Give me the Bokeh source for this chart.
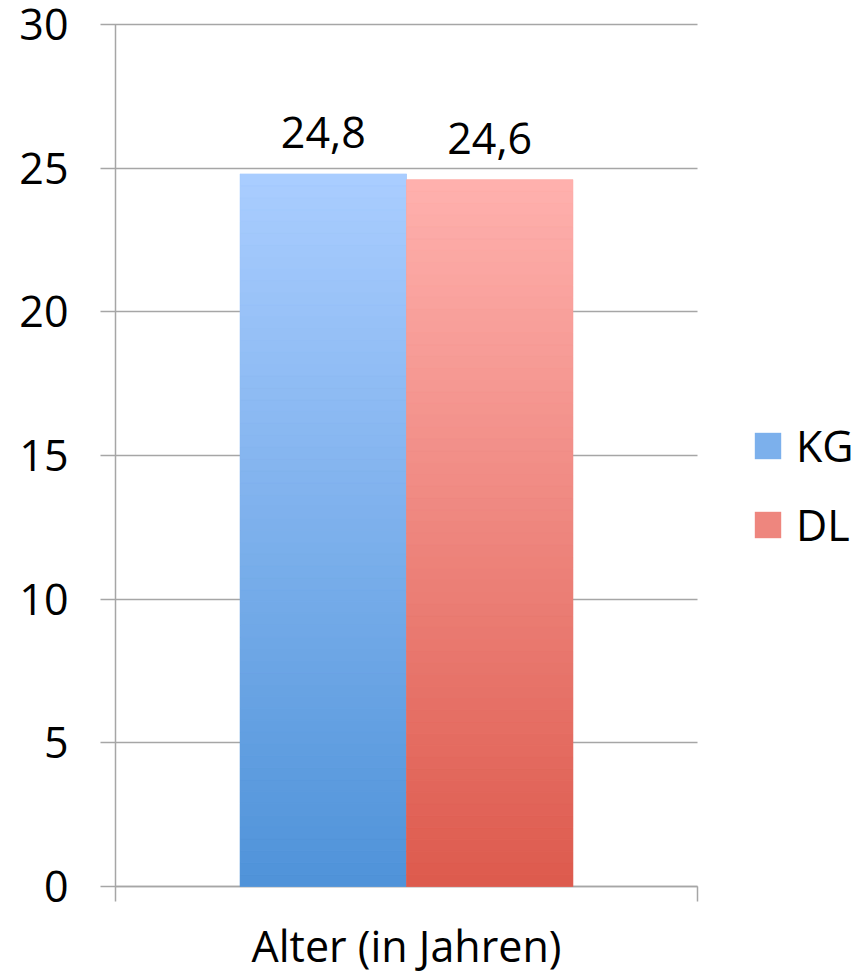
from bokeh.plotting import figure
from bokeh.models import (Range1d, LinearAxis, FixedTicker, Legend, LegendItem, ColumnDataSource)
from bokeh.core.properties import value
from bokeh.embed import file_html
from bokeh.resources import INLINE

# ---- data ----
categories = ["Alter (in Jahren)"]
series = ["KG", "DL"]
values = [24.8, 24.6]
y_ticks = [0, 5, 10, 15, 20, 25, 30]

# ---- style / layout ----
FONT = "Open Sans"
FS = "43px"
GRID = "#a6a6a6"
top_colors = ["#aacdff", "#ffb1ae"]
bottom_colors = ["#4f93d9", "#dd5a4d"]
offsets = [-0.143, 0.143]
BAR_W = 0.286
W, H = 865, 977
LEFT, TOP, BOTTOM = 115, 24, 90
PLOT_W = 582           # width of the category area in px
FRAME_W = W - LEFT     # frame extends under the legend

cat_pos = [i + 0.5 for i in range(len(categories))]
x_end = len(categories) * FRAME_W / PLOT_W

p = figure(width=W, height=H, x_range=Range1d(0, x_end),
           y_range=Range1d(0, 30), output_backend="svg", toolbar_location=None,
           x_axis_location=None, min_border_left=LEFT, min_border_right=0,
           min_border_top=TOP, min_border_bottom=BOTTOM)
p.outline_line_color = None
p.xgrid.grid_line_color = None
p.ygrid.grid_line_color = None

# y axis: long inner ticks act as the horizontal grid lines (bars are drawn above them)
ya = p.yaxis[0]
ya.ticker = FixedTicker(ticks=y_ticks)
ya.axis_line_color = GRID
ya.axis_line_width = 1.5
ya.major_tick_line_color = GRID
ya.major_tick_line_width = 1.5
ya.major_tick_out = 15
ya.major_tick_in = PLOT_W
ya.minor_tick_line_color = None
ya.major_label_text_font = FONT
ya.major_label_text_font_size = FS
ya.major_label_text_color = "#000000"
ya.major_label_standoff = 32

# category boundary ticks
edges = list(range(len(categories) + 1))
xa_ticks = LinearAxis(ticker=FixedTicker(ticks=edges), bounds=(0, len(categories)))
xa_ticks.axis_line_color = GRID
xa_ticks.axis_line_width = 1.5
xa_ticks.major_tick_line_color = GRID
xa_ticks.major_tick_line_width = 1.5
xa_ticks.major_tick_out = 15
xa_ticks.major_tick_in = 0
xa_ticks.minor_tick_line_color = None
xa_ticks.major_label_text_font_size = "0px"
xa_ticks.major_label_standoff = 0
xa_ticks.major_label_overrides = {e: "" for e in edges}
p.add_layout(xa_ticks, "below")

# category labels
xa_cat = LinearAxis(ticker=FixedTicker(ticks=cat_pos))
xa_cat.axis_line_color = None
xa_cat.major_tick_line_color = None
xa_cat.minor_tick_line_color = None
xa_cat.major_label_overrides = {c: lab for c, lab in zip(cat_pos, categories)}
xa_cat.major_label_text_font = FONT
xa_cat.major_label_text_font_size = FS
xa_cat.major_label_text_color = "#000000"
xa_cat.major_label_standoff = 8
p.add_layout(xa_cat, "below")


def hex2rgb(h):
    return tuple(int(h[i:i + 2], 16) for i in (1, 3, 5))


def mix(c1, c2, t):
    a, b = hex2rgb(c1), hex2rgb(c2)
    return "#%02x%02x%02x" % tuple(round(a[k] + (b[k] - a[k]) * t) for k in range(3))


items = []
N = 60
for i, s in enumerate(series):
    mid = mix(bottom_colors[i], top_colors[i], 0.5)
    xs = [c + offsets[i] for c in cat_pos]
    src = ColumnDataSource(dict(x=xs, top=[values[i]], label=[f"{values[i]:.1f}".replace(".", ",")]))
    r = p.vbar(x="x", top="top", width=BAR_W, source=src, fill_color=mid, line_color=None,
               level="overlay")
    items.append(LegendItem(label=s, renderers=[r]))
    # vertical gradient (style only)
    bots = [values[i] * k / N for k in range(N)]
    tops = [values[i] * (k + 1) / N for k in range(N)]
    cols = [mix(bottom_colors[i], top_colors[i], (k + 0.5) / N) for k in range(N)]
    gsrc = ColumnDataSource(dict(x=xs * N, bottom=bots, top=tops, c=cols))
    p.vbar(x="x", bottom="bottom", top="top", width=BAR_W, source=gsrc,
           fill_color="c", line_color="c", line_width=0.6, level="overlay")
    p.text(x="x", y="top", text="label", source=src,
           text_align="center", text_baseline="alphabetic", y_offset=-41,
           text_font=value(FONT), text_font_size=FS, text_color="#000000", level="overlay")

legend = Legend(items=items, location=(636, 332), orientation="vertical")
legend.glyph_width = 33
legend.glyph_height = 33
legend.label_text_font = FONT
legend.label_text_font_size = FS
legend.label_text_color = "#000000"
legend.label_standoff = 12
legend.spacing = 20
legend.padding = 0
legend.margin = 0
legend.border_line_color = None
legend.background_fill_alpha = 0
p.add_layout(legend, "center")

open("out.html", "w").write(file_html(p, INLINE))
